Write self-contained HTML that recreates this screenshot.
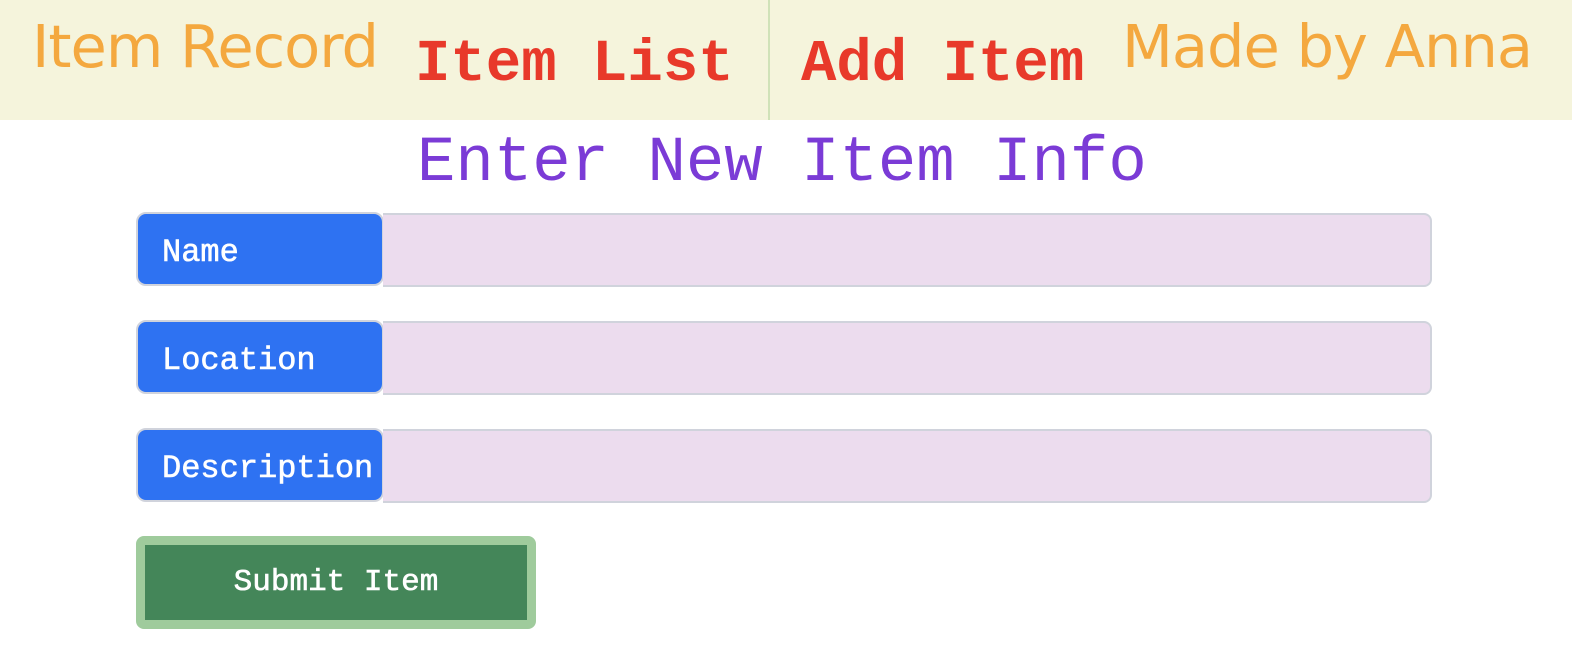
<!DOCTYPE html>
<html><head><meta charset="utf-8"><style>
body{margin:0;width:1572px;height:668px;background:#fff;position:relative;overflow:hidden;font-family:"Liberation Sans",sans-serif}
.hdr{position:absolute;left:0;top:0;width:1572px;height:120px;background:#f5f4dc}
.div{position:absolute;left:768px;top:0;width:2px;height:120px;background:#d0e2b8}
.t{position:absolute;white-space:nowrap;line-height:1}
.logo{color:#f4a83f;font-size:59px;font-family:"DejaVu Sans","Liberation Sans",sans-serif;letter-spacing:-1px}
.nav{color:#e8392a;font-size:59px;font-weight:bold;font-family:"Liberation Mono",monospace}
.title{color:#7b3bd6;font-size:64px;font-family:"Liberation Mono",monospace}
.lab{position:absolute;left:136px;width:244px;height:70px;background:#2e72f2;border:2px solid #d0d3dc;border-radius:10px;color:#fff;font-family:"Liberation Mono",monospace;font-size:32px;-webkit-text-stroke:0.6px #fff;box-sizing:content-box}
.lab span{position:absolute;left:24px;top:20px}
.inp{position:absolute;left:383px;width:1047px;height:70px;background:#ecdcee;border:2px solid #d0d3dc;border-left:none;border-radius:0 8px 8px 0}
.btn{position:absolute;left:136px;top:536px;width:382px;height:75px;background:#448659;border:9px solid #9fcb9c;border-radius:8px;color:#fff;font-family:"Liberation Mono",monospace;font-size:31px;-webkit-text-stroke:0.6px #fff;text-align:center;line-height:75px}
</style></head><body>
<div class="hdr"></div><div class="div"></div>
<div class="t logo" style="left:32px;top:17px">Item Record</div>
<div class="t nav" style="left:415px;top:35px">Item List</div>
<div class="t nav" style="left:801px;top:35px">Add Item</div>
<div class="t logo" style="left:1122px;top:17px">Made by Anna</div>
<div class="t title" style="left:417px;top:132px">Enter New Item Info</div>
<div class="lab" style="top:212px"><span>Name</span></div><div class="inp" style="top:213px"></div>
<div class="lab" style="top:320px"><span>Location</span></div><div class="inp" style="top:321px"></div>
<div class="lab" style="top:428px"><span>Description</span></div><div class="inp" style="top:429px"></div>
<div class="btn">Submit Item</div>
</body></html>
